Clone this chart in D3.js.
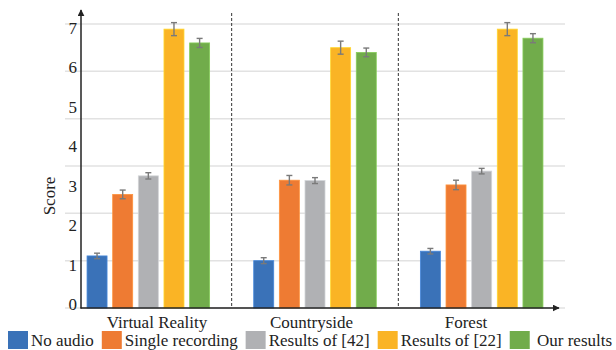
<!DOCTYPE html>
<html>
<head>
<meta charset="utf-8">
<script src="https://cdn.jsdelivr.net/npm/d3@7/dist/d3.min.js"></script>
<style>
  html, body { margin: 0; padding: 0; background: #fff; }
  svg { display: block; }
</style>
</head>
<body>
<svg id="chart" width="616" height="350"></svg>
<script>
// Scenes on the x axis
const categories = ["Virtual Reality", "Countryside", "Forest"];

// Compared methods (legend order)
const seriesNames = ["No audio", "Single recording", "Results of [42]", "Results of [22]", "Our results"];
const seriesColors = ["#3a72b8", "#ee7b33", "#b0b1b4", "#fab425", "#71ac4b"];

// Mean score per scene, one array per method
const noAudio         = [1.32, 1.20, 1.44];
const singleRecording = [2.88, 3.24, 3.12];
const results42       = [3.35, 3.23, 3.47];
const results22       = [7.07, 6.60, 7.07];
const ourResults      = [6.72, 6.48, 6.84];

// Error bar half-lengths per scene, one array per method
const errNoAudio         = [0.07, 0.075, 0.07];
const errSingleRecording = [0.11, 0.12, 0.12];
const errResults42       = [0.08, 0.075, 0.07];
const errResults22       = [0.165, 0.165, 0.165];
const errOurResults      = [0.115, 0.11, 0.115];

// Axis labels and gridline positions
const yTickLabels = [0, 1, 2, 3, 4, 5, 6, 7];
const gridValues = [0, 1.2, 2.4, 3.6, 4.8, 6.0, 7.2];
const yTitle = "Score";

const FONT = "'Liberation Serif', 'Times New Roman', Times, serif";

const values = [noAudio, singleRecording, results42, results22, ourResults];
const errors = [errNoAudio, errSingleRecording, errResults42, errResults22, errOurResults];

const rows = [];
categories.forEach((c, ci) => {
  seriesNames.forEach((s, si) => {
    rows.push({ category: c, series: s, si, value: values[si][ci], err: errors[si][ci] });
  });
});

const svg = d3.select("#chart");

const axisX = 81, baseY = 308;
const x0 = d3.scaleBand().domain(categories).range([65, 565]).padding(0);
const x1 = d3.scaleBand().domain(seriesNames).range([0, x0.bandwidth()])
  .paddingInner(0.22).paddingOuter(0.86);
const y = d3.scaleLinear().domain([0, 7.2]).range([baseY, 24]);
const color = d3.scaleOrdinal().domain(seriesNames).range(seriesColors);

// Gridlines
svg.append("g").selectAll("line").data(gridValues).join("line")
  .attr("x1", 65).attr("x2", 565)
  .attr("y1", d => y(d)).attr("y2", d => y(d))
  .attr("stroke", "#e2e2e2").attr("stroke-width", 1.5);

// Dashed separators between scenes
svg.append("g").selectAll("line").data(categories.slice(1)).join("line")
  .attr("x1", d => x0(d)).attr("x2", d => x0(d))
  .attr("y1", 13).attr("y2", baseY)
  .attr("stroke", "#333").attr("stroke-width", 1)
  .attr("stroke-dasharray", "3,2");

// Bars
svg.append("g").selectAll("rect").data(rows).join("rect")
  .attr("x", d => x0(d.category) + x1(d.series))
  .attr("width", x1.bandwidth())
  .attr("y", d => y(d.value))
  .attr("height", d => y(0) - y(d.value))
  .attr("fill", d => color(d.series))
  .attr("stroke", d => d3.color(color(d.series)).brighter(0.5))
  .attr("stroke-width", 0.8);

// Error bars
const eb = svg.append("g").attr("stroke", "#7a7a7a").attr("stroke-width", 1.4);
rows.forEach(d => {
  const cx = x0(d.category) + x1(d.series) + x1.bandwidth() / 2;
  const yt = y(d.value + d.err), yb = y(d.value - d.err);
  eb.append("line").attr("x1", cx).attr("x2", cx).attr("y1", yt).attr("y2", yb);
  eb.append("line").attr("x1", cx - 3).attr("x2", cx + 3).attr("y1", yt).attr("y2", yt);
  eb.append("line").attr("x1", cx - 3).attr("x2", cx + 3).attr("y1", yb).attr("y2", yb);
});

// Axis lines with arrowheads
const defs = svg.append("defs");
defs.append("marker").attr("id", "arrow")
  .attr("viewBox", "0 0 10 10").attr("refX", 9).attr("refY", 5)
  .attr("markerWidth", 7).attr("markerHeight", 7).attr("orient", "auto")
  .attr("markerUnits", "userSpaceOnUse")
  .append("path").attr("d", "M0,0 L10,5 L0,10 Z").attr("fill", "#222");

svg.append("line").attr("x1", axisX).attr("x2", axisX).attr("y1", baseY + 0.5).attr("y2", 10)
  .attr("stroke", "#222").attr("stroke-width", 1.5).attr("marker-end", "url(#arrow)");
svg.append("line").attr("x1", axisX - 0.5).attr("x2", 559).attr("y1", baseY).attr("y2", baseY)
  .attr("stroke", "#222").attr("stroke-width", 1.5).attr("marker-end", "url(#arrow)");

// Y tick labels
const yAxis = d3.axisLeft(y).tickValues(yTickLabels).tickSize(0).tickPadding(4).tickFormat(d3.format("d"));
const gy = svg.append("g").attr("transform", `translate(${axisX},-4)`).call(yAxis);
gy.select(".domain").remove();
gy.attr("font-family", null).attr("font-size", null);
gy.selectAll("text")
  .style("font-family", FONT)
  .style("font-size", "17px")
  .attr("fill", "#222");

// Y title
svg.append("text")
  .attr("transform", `translate(55,196) rotate(-90)`)
  .attr("text-anchor", "middle")
  .style("font-family", FONT)
  .style("font-size", "17px")
  .attr("fill", "#222")
  .text(yTitle);

// Scene labels
const labelX = d3.scalePoint().domain(categories).range([157, 466]);
svg.append("g").selectAll("text").data(categories).join("text")
  .attr("x", d => labelX(d)).attr("y", 328)
  .attr("text-anchor", "middle")
  .style("font-family", FONT)
  .style("font-size", "17px")
  .attr("fill", "#222")
  .text(d => d);

// Legend laid out left to right
const legend = svg.append("g");
let lx = 8;
seriesNames.forEach((s, i) => {
  legend.append("rect").attr("x", lx).attr("y", 331).attr("width", 20).attr("height", 18)
    .attr("fill", color(s));
  const t = legend.append("text").attr("x", lx + 23).attr("y", 346)
    .style("font-family", FONT)
    .style("font-size", "17px")
    .style("white-space", "pre")
    .attr("fill", "#222")
    .text(i === seriesNames.length - 1 ? "\u00a0" + s : s);
  lx += 23 + t.node().getComputedTextLength() + 8;
});
</script>
</body>
</html>
